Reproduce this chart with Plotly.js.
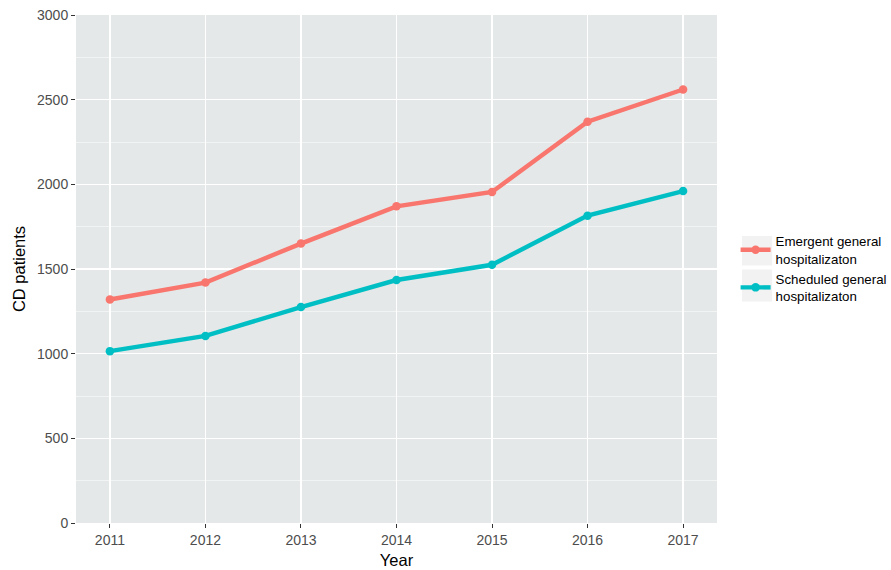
<!DOCTYPE html>
<html>
<head>
<meta charset="utf-8">
<script src="https://cdn.plot.ly/plotly-3.0.1.min.js"></script>
<style>html,body{margin:0;padding:0;background:#fff;}#chart{width:891px;height:570px;}</style>
</head>
<body>
<div id="chart"></div>
<script>
const years = [2011, 2012, 2013, 2014, 2015, 2016, 2017];
const emergent = [1320, 1420, 1650, 1870, 1955, 2370, 2560];
const scheduled = [1015, 1105, 1275, 1435, 1525, 1815, 1960];
const seriesNames = ["Emergent general<br>hospitalizaton", "Scheduled general<br>hospitalizaton"];
const seriesColors = ["#F8766D", "#00BFC4"];
const yTicks = [0, 500, 1000, 1500, 2000, 2500, 3000];

const font = "Arial, 'Liberation Sans', sans-serif";
const traces = [emergent, scheduled].map((vals, i) => ({
  type: 'scatter', mode: 'lines+markers',
  x: years, y: vals, name: seriesNames[i],
  line: {color: seriesColors[i], width: 4.4},
  marker: {color: seriesColors[i], size: 8.5}
}));

// light grey legend key backgrounds (paper coordinates)
const keyBoxes = [[0.565, 0.507], [0.499, 0.436]].map(([y1, y0]) => ({
  type: 'rect', xref: 'paper', yref: 'paper', layer: 'below',
  x0: 1.039, x1: 1.086, y0: y0, y1: y1,
  fillcolor: '#F2F2F2', line: {width: 0}
}));

const layout = {
  width: 891, height: 570,
  margin: {l: 76, r: 174, t: 15, b: 47, autoexpand: false},
  paper_bgcolor: '#ffffff', plot_bgcolor: '#E5E8E8',
  font: {family: font, color: '#4d4d4d', size: 14},
  showlegend: true,
  shapes: keyBoxes,
  legend: {x: 1.029, y: 0.5, xanchor: 'left', yanchor: 'middle',
    font: {family: font, color: '#000', size: 13.3},
    bgcolor: 'rgba(0,0,0,0)', tracegroupgap: 0, itemwidth: 30},
  xaxis: {
    range: [2010.645, 2017.355], tickvals: years, ticktext: years.map(String),
    showgrid: true, gridcolor: '#ffffff', gridwidth: 1.2, zeroline: false,
    ticks: 'outside', ticklen: 4, tickcolor: '#333333', tickwidth: 1,
    tickfont: {size: 14, color: '#4d4d4d'},
    title: {text: 'Year', font: {size: 16.5, color: '#000'}, standoff: 7},
    showline: false
  },
  yaxis: {
    range: [0, 3000], tickvals: yTicks, ticktext: yTicks.map(String),
    showgrid: true, gridcolor: '#ffffff', gridwidth: 1.2, zeroline: false,
    minor: {dtick: 250, tick0: 0, showgrid: true, gridcolor: '#ffffff', gridwidth: 0.5, ticks: ''},
    ticks: 'outside', ticklen: 4, tickcolor: '#333333', tickwidth: 1,
    tickfont: {size: 14, color: '#4d4d4d'},
    title: {text: 'CD patients', font: {size: 16.5, color: '#000'}, standoff: 7},
    showline: false
  }
};
Plotly.newPlot('chart', traces, layout, {displayModeBar: false, staticPlot: true});
</script>
</body>
</html>
